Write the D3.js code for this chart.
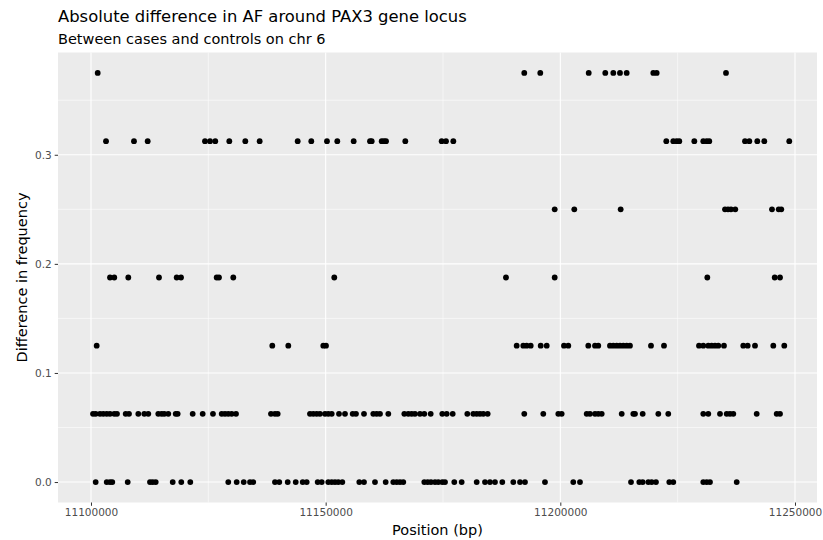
<!DOCTYPE html>
<html>
<head>
<meta charset="utf-8">
<script src="https://cdn.jsdelivr.net/npm/d3@7"></script>
<style>
  html, body { margin: 0; padding: 0; background: #fff; }
  svg { display: block; font-family: "DejaVu Sans", sans-serif; }
</style>
</head>
<body>
<svg id="chart" width="823" height="540"></svg>
<script>
// Variant positions (bp) grouped by absolute allele-frequency difference
const diffLevels = [0, 0.0625, 0.125, 0.1875, 0.25, 0.3125, 0.375];

const pos_0000 = [
  11101000, 11103350, 11104050, 11104540, 11107820, 11112570, 11113150, 11113790,
  11117410, 11119240, 11121160, 11129250, 11131040, 11132540, 11133880, 11134580,
  11139200, 11140120, 11141910, 11143620, 11145110, 11145960, 11148300, 11149160,
  11150560, 11151290, 11151990, 11152690, 11153550, 11157170, 11158170, 11160510,
  11162790, 11164410, 11165140, 11165840, 11166540, 11171020, 11171740, 11172440,
  11173300, 11174000, 11174850, 11175430, 11177410, 11178980, 11182180, 11183950,
  11185010, 11186080, 11187640, 11189980, 11191410, 11192470, 11196730, 11202760,
  11204190, 11215060, 11216830, 11217550, 11218750, 11219470, 11220380, 11223220,
  11224070, 11230460, 11231190, 11231890, 11237580
];

const pos_0625 = [
  11100430, 11101000, 11101920, 11102620, 11103350, 11104050, 11104960, 11105540,
  11107390, 11108100, 11110080, 11111360, 11112210, 11114340, 11115060, 11115620,
  11116470, 11118050, 11118470, 11121670, 11123800, 11125990, 11127850, 11128550,
  11129250, 11129980, 11130900, 11138350, 11139200, 11139780, 11146660, 11147370,
  11148090, 11148790, 11149860, 11150560, 11151290, 11152840, 11154120, 11155760,
  11156460, 11158170, 11160150, 11160870, 11161580, 11163350, 11166760, 11167610,
  11168330, 11169030, 11170100, 11171020, 11172380, 11174850, 11175790, 11177070,
  11180180, 11181460, 11182180, 11182880, 11183590, 11184520, 11192320, 11196370,
  11199570, 11200290, 11205620, 11206320, 11207390, 11208090, 11208820, 11213080,
  11215550, 11215910, 11217550, 11220880, 11223000, 11230460, 11231530, 11234020,
  11235450, 11236150, 11236860, 11241840, 11246100, 11246810
];

const pos_1250 = [
  11101210, 11138630, 11142040, 11149500, 11150070, 11190700, 11192110, 11192830,
  11193690, 11195820, 11197100, 11200780, 11201700, 11205960, 11207390, 11208090,
  11210580, 11211290, 11212010, 11212710, 11213420, 11214140, 11214840, 11219320,
  11222090, 11229550, 11230460, 11231530, 11232250, 11232960, 11233660, 11234870,
  11238980, 11239920, 11241480, 11245380, 11247720
];

const pos_1875 = [
  11104050, 11104960, 11107950, 11114490, 11118260, 11119180, 11126780, 11127270,
  11130320, 11151840, 11188420, 11198800, 11231320, 11245680, 11246810
];

const pos_2500 = [
  11198800, 11202980, 11212860, 11235090, 11235730, 11236360, 11237280, 11245100,
  11246530, 11247080
];

const pos_3125 = [
  11103200, 11109160, 11112080, 11124290, 11125360, 11126480, 11129470, 11132880,
  11135940, 11144040, 11146940, 11150280, 11152480, 11155970, 11159450, 11159810,
  11161940, 11162430, 11162860, 11166970, 11174720, 11175640, 11177200, 11222580,
  11224070, 11224790, 11225350, 11228550, 11230460, 11231190, 11231740, 11239350,
  11240270, 11241970, 11243460, 11248780
];

const pos_3750 = [
  11101430, 11192320, 11195730, 11206050, 11209580, 11211290, 11212710, 11214140,
  11219810, 11220530, 11235300
];

const positionsByLevel = [pos_0000, pos_0625, pos_1250, pos_1875, pos_2500, pos_3125, pos_3750];

// Axis breaks and labels
const xBreaks = [11100000, 11150000, 11200000, 11250000];
const xBreakLabels = ["11100000", "11150000", "11200000", "11250000"];
const xMinorBreaks = [11125000, 11175000, 11225000];
const yBreaks = [0, 0.1, 0.2, 0.3];
const yBreakLabels = ["0.0", "0.1", "0.2", "0.3"];
const yMinorBreaks = [0.05, 0.15, 0.25, 0.35];

const titleText = "Absolute difference in AF around PAX3 gene locus";
const subtitleText = "Between cases and controls on chr 6";
const xTitle = "Position (bp)";
const yTitle = "Difference in frequency";

// Flatten into point records
const points = [];
positionsByLevel.forEach((arr, i) => {
  arr.forEach(p => points.push({ pos: p, diff: diffLevels[i] }));
});

// ---- layout ----
const panel = { left: 58, right: 817, top: 52.5, bottom: 502.5 };

const yMax = d3.max(diffLevels);
const yPad = yMax * 0.05;
const x = d3.scaleLinear()
  .domain([11092970, 11254690])
  .range([panel.left, panel.right]);
const y = d3.scaleLinear()
  .domain([0 - yPad, yMax + yPad])
  .range([panel.bottom, panel.top]);

const svg = d3.select("#chart");

// panel background
svg.append("rect")
  .attr("x", panel.left).attr("y", panel.top)
  .attr("width", panel.right - panel.left)
  .attr("height", panel.bottom - panel.top)
  .attr("fill", "#EBEBEB");

const grid = svg.append("g");
// minor grid
grid.selectAll("line.xminor").data(xMinorBreaks).join("line")
  .attr("x1", d => x(d)).attr("x2", d => x(d))
  .attr("y1", panel.top).attr("y2", panel.bottom)
  .attr("stroke", "#fff").attr("stroke-width", 0.55);
grid.selectAll("line.yminor").data(yMinorBreaks).join("line")
  .attr("y1", d => y(d)).attr("y2", d => y(d))
  .attr("x1", panel.left).attr("x2", panel.right)
  .attr("stroke", "#fff").attr("stroke-width", 0.55);
// major grid
grid.selectAll("line.xmajor").data(xBreaks).join("line")
  .attr("x1", d => x(d)).attr("x2", d => x(d))
  .attr("y1", panel.top).attr("y2", panel.bottom)
  .attr("stroke", "#fff").attr("stroke-width", 1.1);
grid.selectAll("line.ymajor").data(yBreaks).join("line")
  .attr("y1", d => y(d)).attr("y2", d => y(d))
  .attr("x1", panel.left).attr("x2", panel.right)
  .attr("stroke", "#fff").attr("stroke-width", 1.1);

// points
svg.append("g").selectAll("circle").data(points).join("circle")
  .attr("cx", d => x(d.pos))
  .attr("cy", d => y(d.diff))
  .attr("r", 2.9)
  .attr("fill", "#000");

// axes
const xAxis = d3.axisBottom(x)
  .tickValues(xBreaks)
  .tickFormat((d, i) => xBreakLabels[i])
  .tickSize(3.3).tickPadding(3);
const gx = svg.append("g")
  .attr("transform", `translate(0,${panel.bottom})`)
  .call(xAxis);
gx.select(".domain").remove();
gx.selectAll(".tick line").attr("stroke", "#333").attr("stroke-width", 1);
gx.selectAll(".tick text")
  .attr("fill", "#4D4D4D")
  .style("font-size", "10.5px")
  .style("font-family", "DejaVu Sans, sans-serif");

const yAxis = d3.axisLeft(y)
  .tickValues(yBreaks)
  .tickFormat((d, i) => yBreakLabels[i])
  .tickSize(3.3).tickPadding(3);
const gy = svg.append("g")
  .attr("transform", `translate(${panel.left},0)`)
  .call(yAxis);
gy.select(".domain").remove();
gy.selectAll(".tick line").attr("stroke", "#333").attr("stroke-width", 1);
gy.selectAll(".tick text")
  .attr("fill", "#4D4D4D")
  .style("font-size", "10.5px")
  .style("font-family", "DejaVu Sans, sans-serif");

// titles
svg.append("text")
  .attr("x", panel.left).attr("y", 22)
  .attr("fill", "#000")
  .style("font-size", "16.4px")
  .text(titleText);
svg.append("text")
  .attr("x", panel.left).attr("y", 44)
  .attr("fill", "#000")
  .style("font-size", "14.5px")
  .text(subtitleText);

svg.append("text")
  .attr("x", (panel.left + panel.right) / 2)
  .attr("y", 535)
  .attr("text-anchor", "middle")
  .attr("fill", "#000")
  .style("font-size", "14.5px")
  .text(xTitle);

svg.append("text")
  .attr("transform", `translate(27,${(panel.top + panel.bottom) / 2}) rotate(-90)`)
  .attr("text-anchor", "middle")
  .attr("fill", "#000")
  .style("font-size", "14.5px")
  .text(yTitle);
</script>
</body>
</html>
